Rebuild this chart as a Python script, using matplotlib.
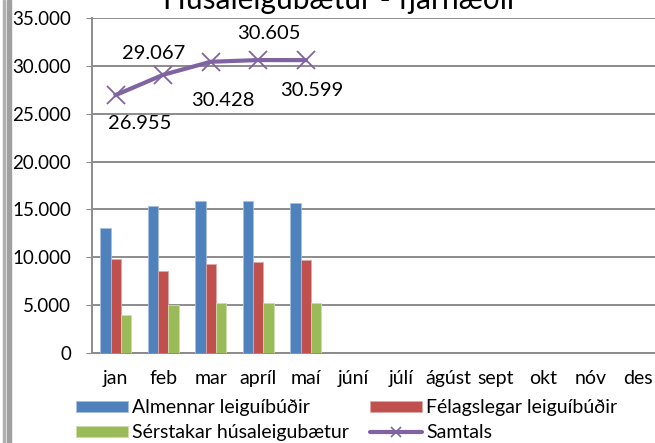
import matplotlib
matplotlib.use("Agg")
import matplotlib.pyplot as plt
from matplotlib.patches import Rectangle
from matplotlib.lines import Line2D
import numpy as np

plt.rcParams['font.family'] = ['Lato', 'DejaVu Sans']

# ===== gögn =====
months = ["jan", "feb", "mar", "apríl", "maí", "júní", "júlí", "ágúst", "sept", "okt", "nóv", "des"]
almennar = [13100, 15400, 15900, 15850, 15700]
felagslegar = [9850, 8600, 9250, 9550, 9700]
serstakar = [3950, 5050, 5200, 5200, 5200]
samtals = [26955, 29067, 30428, 30605, 30599]
samtals_labels = ["26.955", "29.067", "30.428", "30.605", "30.599"]
# label offsets in pixels (dx, dy) from each point
label_offsets = [(24, -28), (-10, 21), (12, -39), (11, 27), (6, -30)]

BLUE = "#4F81BD"
RED = "#C0504D"
GREEN = "#9BBB59"
PURPLE = "#8064A2"
GRID = "#8C8C8C"

fig = plt.figure(figsize=(6.55, 4.43), dpi=100)
fig.patch.set_facecolor("white")
ax = fig.add_axes([92 / 655, 90 / 443, 570 / 655, 335 / 443])

n = len(almennar)
x = np.arange(n)
w = 0.217
b1 = ax.bar(x - w, almennar, w, color=BLUE, edgecolor="#A7C0DE", linewidth=0.6, zorder=3)
b2 = ax.bar(x, felagslegar, w, color=RED, edgecolor="#DFA7A6", linewidth=0.6, zorder=3)
b3 = ax.bar(x + w, serstakar, w, color=GREEN, edgecolor="#CDDDAC", linewidth=0.6, zorder=3)
ax.plot(x, samtals, color=PURPLE, linewidth=3, marker="x", markersize=13,
        markeredgewidth=1.3, zorder=4)

for xi, yi, txt, (dx, dy) in zip(x, samtals, samtals_labels, label_offsets):
    ax.annotate(txt, (xi, yi), xytext=(dx * 0.72, dy * 0.72), textcoords="offset points",
                ha="center", va="center", fontsize=14.5, color="black")

ax.set_xlim(-0.5, len(months) - 0.5)
ax.set_ylim(0, 35000)
ax.set_yticks(range(0, 35001, 5000))
ax.set_yticklabels(["0"] + [f"{v // 1000}.000" for v in range(5000, 35001, 5000)])
ax.set_xticks(range(len(months)))
ax.set_xticklabels(months)
ax.tick_params(axis="y", labelsize=13.5, length=4, color=GRID, pad=11)
ax.tick_params(axis="x", labelsize=14, length=0, pad=12)

ax.grid(axis="y", color=GRID, linewidth=1.4, zorder=0)
ax.set_axisbelow(True)
for s in ["top", "right"]:
    ax.spines[s].set_visible(False)
ax.spines["left"].set_color(GRID)
ax.spines["bottom"].set_color(GRID)
ax.spines["left"].set_linewidth(1.4)
ax.spines["bottom"].set_linewidth(1.4)

# titill, efri hluti skorinn af
fig.text(0.52, 1 - 9 / 443, "Húsaleigubætur - fjárhæðir", ha="center", va="baseline", fontsize=21.5)

# skýringar
ln_handle = Line2D([], [], color=PURPLE, linewidth=3, solid_capstyle="round",
                   marker="x", markersize=7, markeredgewidth=1.2)
leg = fig.legend([b1, b3, b2, ln_handle],
                 ["Almennar leiguíbúðir", "Sérstakar húsaleigubætur", "Félagslegar leiguíbúðir", "Samtals"],
                 ncol=2, loc="lower left", bbox_to_anchor=(66 / 655, -8 / 443), frameon=False,
                 fontsize=14, handlelength=2.68, handleheight=0.55, handletextpad=0.2,
                 columnspacing=1.1, labelspacing=0.4, borderaxespad=0.1)

# grá rönd vinstra megin
fig.add_artist(Rectangle((3 / 655, 0), 2 / 655, 1, transform=fig.transFigure, color="#B0B0B0"))
fig.add_artist(Rectangle((7 / 655, 0), 4 / 655, 1, transform=fig.transFigure, color="#A0A0A0"))

fig.savefig("out.png", dpi=100)
